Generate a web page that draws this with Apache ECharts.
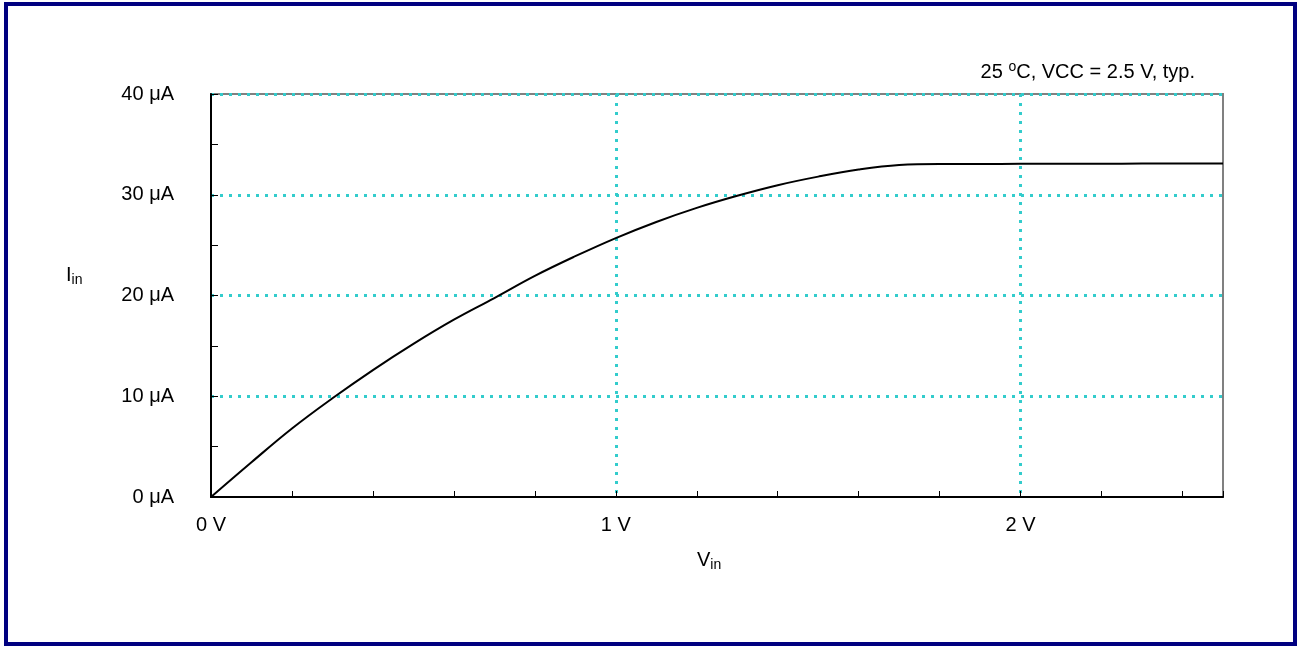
<!DOCTYPE html>
<html>
<head>
<meta charset="utf-8">
<script src="https://cdn.jsdelivr.net/npm/echarts@6/dist/echarts.min.js"></script>
<style>
    body { margin: 0; background: #fff; }
    #chart { width: 1300px; height: 646px; }
</style>
</head>
<body>
<div id="chart"></div>
<script>
// Vin (V) 和 Iin (μA) 读自原图
var vin = [0, 0.1, 0.2, 0.3, 0.4, 0.5, 0.6, 0.7, 0.8, 0.9, 1.0, 1.1, 1.2, 1.3,
    1.4, 1.5, 1.6, 1.7, 1.8, 1.9, 2.0, 2.1, 2.2, 2.3, 2.4, 2.5];
var iin = [0, 3.45, 6.8, 9.8, 12.6, 15.2, 17.6, 19.75, 21.95, 23.9, 25.7, 27.3, 28.7, 29.9,
    30.95, 31.8, 32.5, 32.95, 33.05, 33.05, 33.07, 33.08, 33.08, 33.09, 33.1, 33.1];

var xTicks = [0, 1, 2];          // 主刻度
var yTicks = [0, 10, 20, 30, 40];

var FONT = '"Liberation Sans", Arial, sans-serif';
var GRIDCOLOR = '#33cccc';

var points = [];
for (var i = 0; i < vin.length; i++) {
    points.push([vin[i], iin[i]]);
}

var Chart = echarts.init(document.getElementById('chart'));
Chart.setOption({
    animation: false,
    textStyle: { fontFamily: FONT },
    grid: {
        left: 211,
        right: 77,
        top: 94,
        bottom: 149,
        show: true,
        borderColor: '#808080',
        borderWidth: 2
    },
    graphic: [
        //外框
        {
            type: 'rect',
            shape: { x: 6, y: 4, width: 1289, height: 640 },
            style: { fill: 'none', stroke: '#000080', lineWidth: 4 }
        },
        {
            type: 'text',
            right: 105,
            top: 60,
            style: {
                text: '{m|25 }{s|o}{m|C, VCC = 2.5 V, typ.}',
                rich: {
                    m: { fontSize: 20, fontFamily: FONT, fill: '#000', lineHeight: 24 },
                    s: { fontSize: 14, fontFamily: FONT, fill: '#000', verticalAlign: 'top' }
                }
            }
        },
        {
            type: 'text',
            left: 66,
            top: 265,
            style: {
                text: '{m|I}{s|in}',
                rich: {
                    m: { fontSize: 20, fontFamily: FONT, fill: '#000', lineHeight: 24 },
                    s: { fontSize: 14, fontFamily: FONT, fill: '#000', verticalAlign: 'bottom' }
                }
            }
        },
        {
            type: 'text',
            left: 697,
            top: 550,
            style: {
                text: '{m|V}{s|in}',
                rich: {
                    m: { fontSize: 20, fontFamily: FONT, fill: '#000', lineHeight: 24 },
                    s: { fontSize: 14, fontFamily: FONT, fill: '#000', verticalAlign: 'bottom' }
                }
            }
        }
    ],
    xAxis: [
        {
            type: 'value',
            min: 0,
            max: 2.5,
            interval: 1,
            position: 'bottom',
            axisLine: { show: true, lineStyle: { color: '#000', width: 2 } },
            axisTick: { show: false },
            axisLabel: {
                show: true,
                showMaxLabel: false,
                fontSize: 20,
                color: '#000',
                margin: 18,
                formatter: function (v) {
                    return xTicks.indexOf(v) >= 0 ? v + ' V' : '';
                }
            },
            splitLine: {
                show: true,
                showMinLine: false,
                showMaxLine: false,
                lineStyle: { color: GRIDCOLOR, width: 3, type: [3, 6] }
            }
        },
        //只用来画 0.2 V 的小刻度
        {
            type: 'value',
            min: 0,
            max: 2.5,
            interval: 0.2,
            position: 'bottom',
            axisLine: { show: false },
            axisTick: { show: true, inside: true, length: 6, lineStyle: { color: '#000', width: 1 } },
            axisLabel: { show: false },
            splitLine: { show: false }
        }
    ],
    yAxis: [
        {
            type: 'value',
            min: 0,
            max: 40,
            interval: 10,
            position: 'left',
            axisLine: { show: true, lineStyle: { color: '#000', width: 2 } },
            axisTick: { show: true, inside: true, length: 7, lineStyle: { color: '#000', width: 1 } },
            minorTick: { show: true, splitNumber: 2, length: 7, lineStyle: { color: '#000', width: 1 } },
            axisLabel: {
                fontSize: 20,
                color: '#000',
                margin: 37,
                formatter: function (v) {
                    return yTicks.indexOf(v) >= 0 ? v + ' μA' : '';
                }
            },
            splitLine: {
                show: true,
                showMinLine: false,
                lineStyle: { color: GRIDCOLOR, width: 3, type: [3, 6] }
            }
        }
    ],
    series: [
        {
            type: 'line',
            xAxisIndex: 0,
            yAxisIndex: 0,
            smooth: 0.4,
            symbol: 'none',
            lineStyle: { color: '#000', width: 2 },
            data: points,
            z: 5
        }
    ]
});
</script>
</body>
</html>
